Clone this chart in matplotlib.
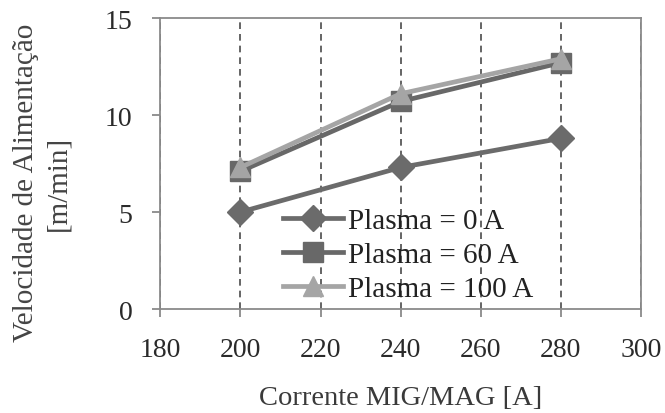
import numpy as np
import matplotlib.pyplot as plt

plt.rcParams['font.family'] = ['Liberation Serif', 'DejaVu Serif']

corrente = [200, 240, 280]
plasma_0 = [5.0, 7.3, 8.8]
plasma_60 = [7.1, 10.7, 12.7]
plasma_100 = [7.3, 11.1, 12.9]
labels = ["Plasma = 0 A", "Plasma = 60 A", "Plasma = 100 A"]

fig = plt.figure(figsize=(6.65, 4.14), dpi=100)
ax = fig.add_axes([0.241, 0.251, 0.723, 0.703])

ax.plot(corrente, plasma_0, color="#6b6b6b", lw=3.4, marker="D", ms=13, label=labels[0], zorder=3)
ax.plot(corrente, plasma_60, color="#686868", lw=3.4, marker="s", ms=15, label=labels[1], zorder=3)
ax.plot(corrente, plasma_100, color="#a5a5a5", lw=3.4, marker="^", ms=15, label=labels[2], zorder=3)

ax.set_xlim(180, 300)
ax.set_ylim(0, 15)
ax.set_xticks(np.arange(180, 301, 20))
ax.set_yticks([0, 5, 10, 15])
ax.grid(axis="x", linestyle=(0, (4, 3)), color="#4a4a4a", lw=1.2)
ax.set_axisbelow(True)

for side in ["top", "right", "left", "bottom"]:
    ax.spines[side].set_color("#8a8a8a")
    ax.spines[side].set_linewidth(1.3)
    ax.spines[side].set_zorder(2.6)
ax.tick_params(axis="both", labelsize=20, colors="#8a8a8a", labelcolor="#2a2a2a",
               direction="out", length=6, width=1.3)
ax.tick_params(axis="x", pad=14)
ax.tick_params(axis="y", pad=14)

ax.set_xlabel("Corrente MIG/MAG [A]", fontsize=20.5, color="#3a3a3a")
ax.xaxis.set_label_coords(0.5, -0.305)
ax.xaxis.label.set_va("center")
ax.set_ylabel("Velocidade de Alimentação\n[m/min]", fontsize=21, color="#444444",
              linespacing=1.3)
ax.yaxis.set_label_coords(-0.245, 0.436)
ax.yaxis.label.set_va("center")

leg = ax.legend(loc="center left", bbox_to_anchor=(0.256, 0.186), frameon=False,
                fontsize=21, handlelength=2.05, handletextpad=0.15, labelspacing=0.25,
                borderaxespad=0, borderpad=0)
for t in leg.get_texts():
    t.set_color("#222222")

fig.savefig("out.png", dpi=100)
